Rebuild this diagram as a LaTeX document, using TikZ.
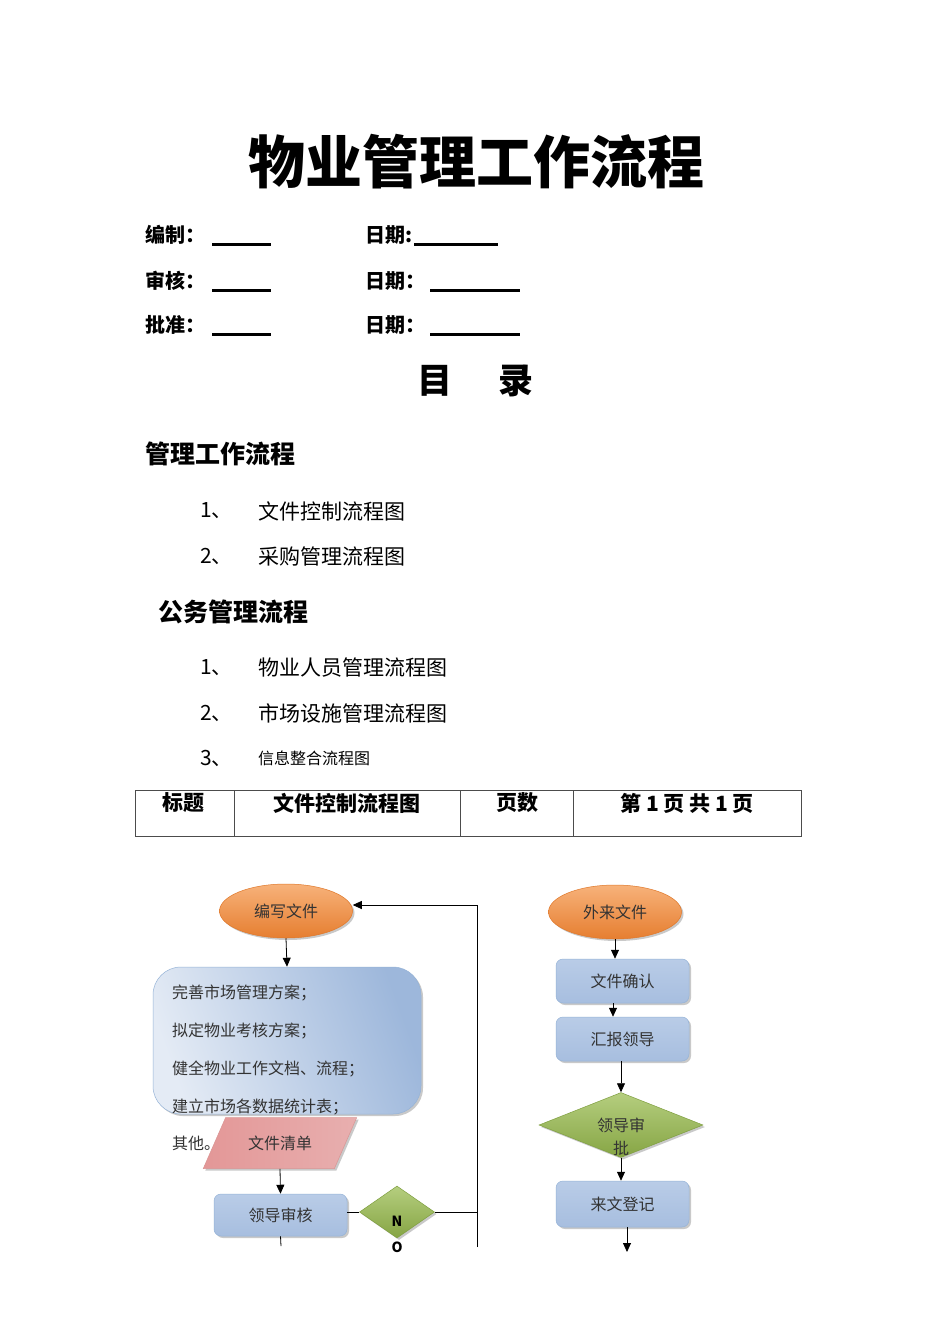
\documentclass[tikz,border=0pt]{standalone}
\usepackage{fontspec}
\setmainfont{Noto Sans CJK SC}
\usetikzlibrary{shapes.geometric,shadows,arrows.meta}
\definecolor{orL}{HTML}{F7B27A}
\definecolor{orD}{HTML}{E67E30}
\definecolor{orB}{HTML}{E0782A}
\definecolor{bxT}{HTML}{B9CCE7}
\definecolor{bxM}{HTML}{E4EBF5}
\definecolor{bxB}{HTML}{A7BEDF}
\definecolor{bxE}{HTML}{95B3D7}
\definecolor{bxR}{HTML}{9DB7DB}
\definecolor{pkL}{HTML}{F2CFCF}
\definecolor{pkD}{HTML}{E39797}
\definecolor{pkR}{HTML}{E8AFAF}
\definecolor{pkE}{HTML}{D99594}
\definecolor{grL}{HTML}{B5CE7F}
\definecolor{grD}{HTML}{86A544}
\definecolor{grE}{HTML}{7F9F40}
\definecolor{txt}{HTML}{333333}
\begin{document}
\begin{tikzpicture}[x=1pt,y=-1pt,
  shd/.style={drop shadow={shadow xshift=2pt,shadow yshift=-2pt,opacity=0.35,fill=black!60}},
  ell/.style={ellipse,draw=orB,line width=0.5pt,top color=orL,bottom color=orD,minimum width=133pt,minimum height=54pt,inner sep=0pt,shd,font=\fontsize{16}{16}\selectfont,text=txt},
  bbox/.style={rectangle,rounded corners=7pt,draw=bxE,line width=0.5pt,top color=bxT,middle color=bxM,bottom color=bxB,minimum width=133pt,minimum height=44pt,shd,font=\fontsize{16}{16}\selectfont,text=txt},
  para/.style={trapezium,trapezium left angle=56,trapezium right angle=124,trapezium stretches=true,draw=pkE,line width=0.5pt,left color=pkD,middle color=pkL,right color=pkR,minimum width=154pt,minimum height=51pt,shd,font=\fontsize{16}{16}\selectfont,text=txt},
  dia/.style={diamond,draw=grE,line width=0.5pt,top color=grL,bottom color=grD,inner sep=0pt,shd},
  arr/.style={-{Triangle[length=9pt,width=8pt]},line width=0.8pt},
  ln/.style={line width=0.8pt},
  bar/.style={line width=3pt},
  hd/.style={font=\fontsize{20}{20}\selectfont\bfseries,anchor=west,inner sep=0pt},
  sec/.style={font=\fontsize{25}{25}\selectfont\bfseries,anchor=west,inner sep=0pt},
  item/.style={font=\fontsize{21}{21}\selectfont,anchor=west,inner sep=0pt},
  tb/.style={font=\fontsize{21}{21}\selectfont\bfseries,inner sep=0pt},
  ft/.style={font=\fontsize{16}{16}\selectfont,text=txt,inner sep=0pt},
  nolab/.style={font=\fontsize{14}{14}\selectfont\bfseries,inner sep=0pt}]
\useasboundingbox[fill=white] (0,0) rectangle (950,1344);

% title
\node[font=\fontsize{57}{57}\selectfont\bfseries,inner sep=0pt] (title) at (476,162) {物业管理工作流程};

% sign rows
\node[hd] (h1) at (145,235) {编制：};
\draw[bar] (212,244) -- (271,244);
\node[hd] (h2) at (365,235) {日期:};
\draw[bar] (414,244) -- (498,244);
\node[hd] (h3) at (145,281) {审核：};
\draw[bar] (212,290) -- (271,290);
\node[hd] (h4) at (365,281) {日期：};
\draw[bar] (430,290) -- (520,290);
\node[hd] (h5) at (145,325) {批准：};
\draw[bar] (212,334) -- (271,334);
\node[hd] (h6) at (365,325) {日期：};
\draw[bar] (430,334) -- (520,334);

% contents
\node[font=\fontsize{35}{35}\selectfont\bfseries,inner sep=0pt] (ml1) at (435,381) {目};
\node[font=\fontsize{35}{35}\selectfont\bfseries,inner sep=0pt] (ml2) at (516,381) {录};

\node[sec] (s1) at (145,454) {管理工作流程};
\node[item] (n11) at (200,511) {1、};
\node[item] (t11) at (258,511) {文件控制流程图};
\node[item] (n12) at (200,556) {2、};
\node[item] (t12) at (258,556) {采购管理流程图};
\node[sec] (s2) at (158,612) {公务管理流程};
\node[item] (n21) at (200,668) {1、};
\node[item] (t21) at (258,668) {物业人员管理流程图};
\node[item] (n22) at (200,713) {2、};
\node[item] (t22) at (258,713) {市场设施管理流程图};
\node[item] (n23) at (200,758) {3、};
\node[item,font=\fontsize{16}{16}\selectfont] (t23) at (258,758) {信息整合流程图};

% table
\draw[line width=0.8pt,black!70] (135,790) rectangle (801,836);
\draw[line width=0.8pt,black!70] (234,790) -- (234,836) (460,790) -- (460,836) (573,790) -- (573,836);
\node[tb] (c1) at (183,803) {标题};
\node[tb] (c2) at (347,803) {文件控制流程图};
\node[tb] (c3) at (517,803) {页数};
\node[tb] (c4) at (687,803) {第 1 页 共 1 页};

% left flow
\node[ell] (w1) at (286,911) {编写文件};
\node[rectangle,rounded corners=28pt,draw=bxE,line width=0.5pt,shading=axis,left color=bxM,right color=bxR,shading angle=110,minimum width=268pt,minimum height=147pt,shd] (big) at (287,1040.5) {};
\node[ft,anchor=north west,align=left,font=\fontsize{16}{37.8}\selectfont] (bigt) at (172,985) {完善市场管理方案；\\拟定物业考核方案；\\健全物业工作文档、流程；\\建立市场各数据统计表；\\其他。};
\node[para] (qd) at (280,1143) {文件清单};
\node[bbox,minimum height=42pt] (sh) at (280.5,1215) {领导审核};
\node[dia,minimum width=75pt,minimum height=52pt] (dN) at (397,1212) {};
\node[nolab] (nN) at (397,1221) {N};
\node[nolab] (nO) at (397,1247) {O};
\coordinate (e1) at (281,1246);
\coordinate (c1b) at (477,1247);
\coordinate (c2t) at (477,905);

\draw[arr] (w1.south) -- (big.north);
\draw[arr] (qd.south) -- (sh.north);
\draw[ln] (sh.south) -- (e1);
\draw[ln] (sh.east |- dN.west) -- (dN.west);
\draw[ln] (dN.east) -- (dN.east -| c1b);
\draw[arr] (c1b) -- (c2t) -- (w1.east |- c2t);

% right flow
\node[ell] (wl) at (615,912) {外来文件};
\node[bbox] (qr) at (622.5,981) {文件确认};
\node[bbox] (hb) at (622.5,1039) {汇报领导};
\node[dia,minimum width=164pt,minimum height=65pt] (sp) at (621,1125) {};
\node[ft] (sp1) at (621,1125) {领导审};
\node[ft] (sp2) at (621,1148) {批};
\node[bbox,minimum height=46pt] (lw) at (622.5,1204) {来文登记};
\coordinate (e2) at (627,1252);

\draw[arr] (wl.south) -- (wl.south |- qr.north);
\draw[arr] (qr.south -| 613,0) -- (hb.north -| 613,0);
\draw[arr] (hb.south -| sp.north) -- (sp.north);
\draw[arr] (sp.south) -- (sp.south |- lw.north);
\draw[arr] (lw.south -| e2) -- (e2);
\end{tikzpicture}
\end{document}
